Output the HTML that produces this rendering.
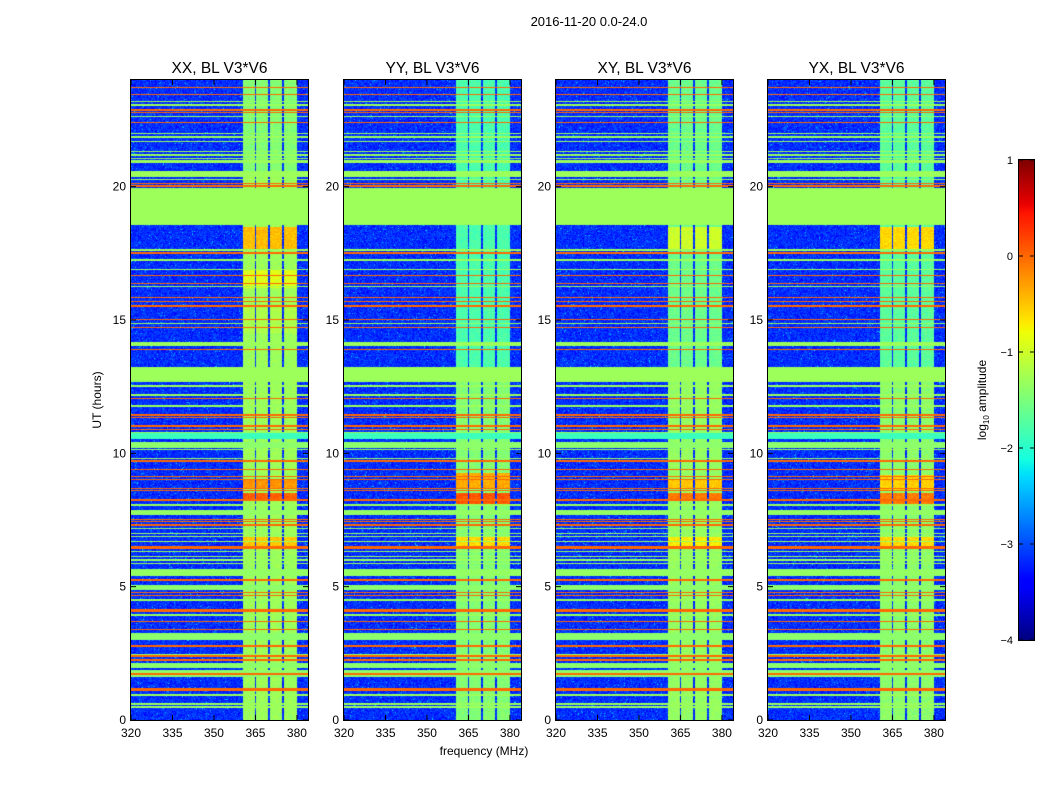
<!DOCTYPE html>
<html><head><meta charset="utf-8">
<style>
body{margin:0;background:#fff;width:1050px;height:800px;overflow:hidden;position:relative;font-family:"Liberation Sans",sans-serif;}
canvas{position:absolute;}
svg{position:absolute;left:0;top:0;}
</style></head>
<body>
<div id="panels"></div>
<svg id="ov" width="1050" height="800"></svg>
<script>
// ---- data ----
const panelTitles = ["XX, BL V3*V6","YY, BL V3*V6","XY, BL V3*V6","YX, BL V3*V6"];
const xTicks = [320,335,350,365,380];
const yTicks = [0,5,10,15,20];
const cbTicks = [-4,-3,-2,-1,0,1];
// horizontal RFI lines: hour, log10 level, thickness (hours)
const lineHours = [23.73,23.46,23.19,23.06,22.87,22.77,22.63,22.40,22.0,21.86,21.69,21.31,21.19,21.06,20.94,20.28,20.13,20.03,17.63,17.51,17.25,16.9,16.67,16.38,16.25,15.85,15.69,15.52,15.03,14.88,14.73,14.1,13.9,12.53,12.19,12.06,11.78,11.44,11.35,11.03,10.9,10.79,10.15,9.81,9.71,9.4,9.12,9.03,8.69,8.6,8.25,8.06,7.53,7.44,7.31,7.19,7.0,6.88,6.69,6.46,6.31,6.13,6.0,5.87,5.25,4.77,4.66,4.5,4.1,3.94,3.69,3.4,2.78,2.44,2.4,2.25,1.72,1.15,0.94,0.6,0.49];
const lineLevels = [0,0,-1.3,-1.3,0,0,-1.3,0,-1.3,-1.3,-1.3,-1.3,-1.3,-1.3,-1.3,-1.3,0,0,-1.3,0,-1.3,-1.3,0,0,-1.3,0,0,0,0,-1.3,0,-1.3,0,-1.3,-1.3,0,-1.3,0,0,0,0,-1.3,-1.3,-1.3,0,0,0,0,0,0,0,-1.3,0,0,0,-1.3,-1.3,-1.3,-1.3,0,-1.3,-1.3,-1.3,-1.3,0,0,0,-1.3,0,-1.3,0,0,0,-1.3,0,0,0,0,-1.3,-1.3,-1.3];
const lineWidths = [0.05,0.05,0.05,0.05,0.05,0.05,0.05,0.05,0.05,0.05,0.05,0.05,0.05,0.05,0.1,0.05,0.05,0.05,0.05,0.05,0.1,0.05,0.05,0.05,0.05,0.05,0.05,0.05,0.05,0.05,0.05,0.12,0.05,0.05,0.05,0.05,0.05,0.05,0.05,0.05,0.05,0.05,0.05,0.05,0.05,0.05,0.05,0.05,0.05,0.05,0.05,0.05,0.05,0.05,0.05,0.05,0.05,0.05,0.05,0.1,0.05,0.05,0.05,0.05,0.1,0.05,0.05,0.05,0.1,0.05,0.05,0.05,0.1,0.05,0.05,0.05,0.05,0.12,0.05,0.05,0.05];
// flagged blocks: start hour, end hour, level
const blockStart = [18.56,20.38,12.69,10.52,10.19,7.69,5.4,4.88,3.0,1.95,1.62];
const blockEnd   = [19.94,20.6,13.25,10.75,10.44,7.88,5.65,5.06,3.25,2.13,1.88];
const blockLevel = [-1.3,-1.3,-1.3,-1.9,-1.4,-1.35,-1.35,-1.4,-1.4,-1.4,-1.4];
// frequency band with strong signal (MHz) and narrow gaps
const bandLow = 360.5, bandHigh = 380;
const bandGaps = [365,370,375];
// band base levels per panel
const bandBase = [-1.3,-1.45,-1.35,-1.4];
// band segments per panel: [start hour, end hour, level]
const bandHot = [
 [[20.6,24,-1.45],[17.6,18.5,-0.45],[16.2,16.9,-0.9],[8.7,9.0,-0.25],[8.2,8.5,0.05],[6.5,6.9,-0.5],[14.5,15.5,-1.2]],
 [[12.7,24,-1.8],[8.7,9.25,-0.35],[8.1,8.5,0.1],[6.5,6.9,-0.6]],
 [[12.7,24,-1.6],[17.6,18.5,-1.0],[8.7,9.0,-0.5],[8.2,8.5,-0.1],[6.5,6.9,-0.7]],
 [[12.7,24,-1.7],[17.6,18.5,-0.6],[8.6,9.2,-0.55],[8.1,8.5,-0.1],[6.5,6.9,-0.6]]
];
const bgLevel = -3.15;

// ---- geometry ----
const panelX = [131,344,556,768], PW = 177, PY = 80, PH = 640;
const fMin = 320, fMax = 384, hMin = 0, hMax = 24, vMin = -4, vMax = 1;
function xScale(i,f){return panelX[i] + (f-fMin)/(fMax-fMin)*PW;}
function yScale(h){return PY + (hMax-h)/(hMax-hMin)*PH;}
function jetc(v){
  let t=Math.max(0,Math.min(1,(v-vMin)/(vMax-vMin)));
  function seg(p){for(let k=1;k<p.length;k++){if(t<=p[k][0]){const a=p[k-1],b=p[k];return a[1]+(b[1]-a[1])*(t-a[0])/(b[0]-a[0]);}}return p[p.length-1][1];}
  return [seg([[0,0],[0.35,0],[0.66,1],[0.89,1],[1,0.5]])*255,seg([[0,0],[0.125,0],[0.375,1],[0.64,1],[0.91,0],[1,0]])*255,seg([[0,0.5],[0.11,1],[0.34,1],[0.65,0],[1,0]])*255];
}
function hash(a,b,c){let h=(a*374761393+b*668265263+c*2147483647)|0;h=(h^(h>>>13))*1274126177|0;return ((h^(h>>>16))>>>0)/4294967296;}

const holder=document.getElementById('panels');
for(let p=0;p<4;p++){
  const cv=document.createElement('canvas');
  
  
  cv.width=PW;cv.height=PH;cv.style.left=panelX[p]+'px';cv.style.top=PY+'px';
  holder.appendChild(cv);
  const ctx=cv.getContext('2d');const img=ctx.createImageData(PW,PH);
  const bx0=xScale(p,bandLow)-panelX[p], bx1=xScale(p,bandHigh)-panelX[p];
  const gx=bandGaps.map(g=>xScale(p,g)-panelX[p]);
  for(let py=0;py<PH;py++){
    const h=hMax-(py+0.5)/PH*(hMax-hMin);
    let lineV=null;
    for(let k=0;k<lineHours.length;k++){if(Math.abs(h-lineHours[k])<lineWidths[k]/2) lineV=lineLevels[k];}
    for(let k=0;k<blockStart.length;k++){if(h>=blockStart[k]&&h<=blockEnd[k]) lineV=(lineV!==null&&lineV>blockLevel[k])?lineV:blockLevel[k];}
    let bandV=bandBase[p];
    for(const s of bandHot[p]){if(h>=s[0]&&h<=s[1]) bandV=s[2];}
    for(let px=0;px<PW;px++){
      let v;
      if(lineV!==null){v=lineV;}
      else{
        const n=hash(px,py,p);
        const inBand=(px+0.5)>=bx0&&(px+0.5)<=bx1;
        let gap=false;for(const g of gx){if(Math.abs(px+0.5-g)<0.8)gap=true;}
        if(inBand&&!gap){v=bandV+(n-0.5)*0.3;}
        else{v=bgLevel+(n-0.5)*0.5;if(n>0.985)v+=0.5;}
      }
      const c=jetc(v);const o=(py*PW+px)*4;
      img.data[o]=c[0];img.data[o+1]=c[1];img.data[o+2]=c[2];img.data[o+3]=255;
    }
  }
  ctx.putImageData(img,0,0);
}
// colorbar
const cb=document.createElement('canvas');


cb.width=15;cb.height=480;cb.style.left='1019px';cb.style.top='160px';
holder.appendChild(cb);
{const c=cb.getContext('2d');for(let y=0;y<480;y++){const v=vMax-(y+0.5)/480*(vMax-vMin);const k=jetc(v);c.fillStyle=`rgb(${k[0]|0},${k[1]|0},${k[2]|0})`;c.fillRect(0,y,15,1);}}

// overlay
const NS='http://www.w3.org/2000/svg';const ov=document.getElementById('ov');
function el(tag,attrs,txt){const e=document.createElementNS(NS,tag);for(const k in attrs)e.setAttribute(k,attrs[k]);if(txt!==undefined)e.textContent=txt;ov.appendChild(e);return e;}
let t=el('text',{x:589,y:26,'text-anchor':'middle','font-size':13,'font-family':'Liberation Sans, sans-serif'},'2016-11-20 0.0-24.0');


for(let p=0;p<4;p++){
  let r=el('rect',{x:panelX[p]-0.5,y:PY-0.5,width:PW+1,height:PH+1,fill:'none',stroke:'#000','stroke-width':1});
  
  
  let tt=el('text',{x:panelX[p]+PW/2,y:73,'text-anchor':'middle','font-size':15.5,'font-family':'Liberation Sans, sans-serif'},panelTitles[p]);
  
  
  for(const f of xTicks){
    const x=xScale(p,f);
    el('line',{x1:x,x2:x,y1:PY+PH,y2:PY+PH-5,stroke:'#000'});
    el('line',{x1:x,x2:x,y1:PY,y2:PY+5,stroke:'#000'});
    let l=el('text',{x:x,y:737,'text-anchor':'middle','font-size':12,'font-family':'Liberation Sans, sans-serif'},String(f));
    
    
  }
  for(const h of yTicks){
    const y=yScale(h);
    el('line',{x1:panelX[p],x2:panelX[p]+5,y1:y,y2:y,stroke:'#000'});
    el('line',{x1:panelX[p]+PW,x2:panelX[p]+PW-5,y1:y,y2:y,stroke:'#000'});
    let l=el('text',{x:panelX[p]-5,y:y+4,'text-anchor':'end','font-size':12,'font-family':'Liberation Sans, sans-serif'},String(h));
    
    
  }
}
let xl=el('text',{x:484,y:755,'text-anchor':'middle','font-size':12,'font-family':'Liberation Sans, sans-serif'},'frequency (MHz)');


let yl=el('text',{x:0,y:0,transform:'translate(101,400) rotate(-90)','text-anchor':'middle','font-size':12,'font-family':'Liberation Sans, sans-serif'},'UT (hours)');


let cbr=el('rect',{x:1018.5,y:159.5,width:16,height:481,fill:'none',stroke:'#000'});


for(const v of cbTicks){
  const y=160+(vMax-v)/(vMax-vMin)*480;
  el('line',{x1:1019,x2:1023,y1:y,y2:y,stroke:'#000'});
  el('line',{x1:1034,x2:1030,y1:y,y2:y,stroke:'#000'});
  let l=el('text',{x:1013,y:y+4,'text-anchor':'end','font-size':11,'font-family':'Liberation Sans, sans-serif'},v<0?'\u2212'+(-v):String(v));
  
  
}
let cl=el('text',{x:0,y:0,transform:'translate(986,400) rotate(-90)','text-anchor':'middle','font-size':12,'font-family':'Liberation Sans, sans-serif'});
cl.innerHTML='log<tspan font-size="8" dy="3">10</tspan><tspan dy="-3"> amplitude</tspan>';


</script>
</body></html>
